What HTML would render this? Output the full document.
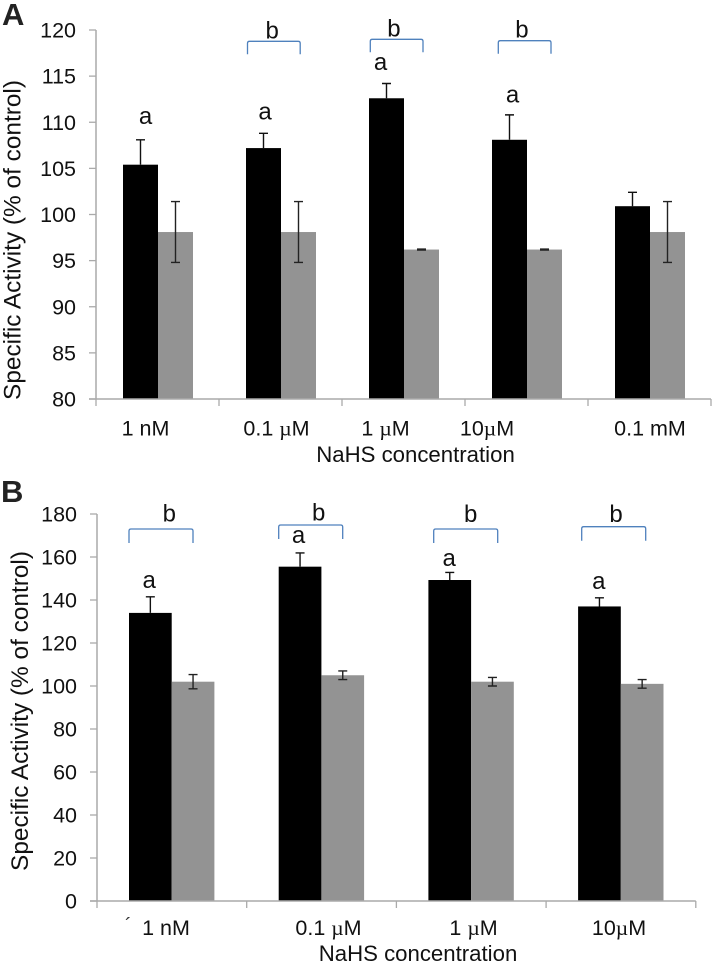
<!DOCTYPE html>
<html>
<head>
<meta charset="utf-8">
<style>
html,body{margin:0;padding:0;background:#fff;width:715px;height:964px;overflow:hidden}
svg{display:block;font-family:"Liberation Sans",sans-serif;filter:blur(0.3px)}
</style>
</head>
<body>
<svg id="fig" width="715" height="964" viewBox="0 0 715 964" xmlns="http://www.w3.org/2000/svg"></svg>
<script>
const aCategories = ['1 nM', '0.1 µM', '1 µM', '10µM', '0.1 mM'];
const aTreated = [105.4, 107.2, 112.6, 108.1, 100.9];
const aTreatedErr = [2.7, 1.6, 1.6, 2.7, 1.5];
const aControl = [98.1, 98.1, 96.2, 96.2, 98.1];
const aControlErr = [3.3, 3.3, 0.05, 0.05, 3.3];
const aTicks = [80, 85, 90, 95, 100, 105, 110, 115, 120];
const aLetters = [true, true, true, true, false];
const aBrackets = [false, true, true, true, false];

const bCategories = ['1 nM', '0.1 µM', '1 µM', '10µM'];
const bTreated = [134, 155.5, 149.3, 137];
const bTreatedErr = [7.5, 6.4, 3.5, 4];
const bControl = [102, 105, 102, 101];
const bControlErr = [3.3, 2, 2, 2];
const bTicks = [0, 20, 40, 60, 80, 100, 120, 140, 160, 180];
const bLetters = [true, true, true, true];
const bBrackets = [true, true, true, true];

const NS = 'http://www.w3.org/2000/svg';
const svg = document.getElementById('fig');

function mk(tag, attrs, text) {
  const el = document.createElementNS(NS, tag);
  for (const k in attrs) el.setAttribute(k, attrs[k]);
  if (text !== undefined) el.textContent = text;
  svg.appendChild(el);
  return el;
}

function drawPanel(p) {
  const y = v => p.y0 + (v - p.vMin) / (p.vMax - p.vMin) * (p.y1 - p.y0);
  const x = i => p.x0 + i * p.step;
  const n = p.categories.length;
  const axisRight = x(n);

  p.ticks.forEach(t => {
    const tick = mk('line', {x1: p.x0 - 7, x2: p.x0, y1: y(t), y2: y(t), stroke: '#aaaaaa', 'stroke-width': 1.3});
    
    
    const lab = mk('text', {x: p.x0 - 20, y: y(t) + 7.5, 'text-anchor': 'end', 'font-size': 21.5, fill: '#111'}, t);
    
    
  });

  p.categories.forEach((c, i) => {
    const left = x(i) + p.barOffset;
    const mid = left + p.barW;

    const black = mk('rect', {x: left, y: y(p.treated[i]), width: p.barW, height: p.y0 - y(p.treated[i]), fill: '#000'});
    
    
    const gray = mk('rect', {x: mid, y: y(p.control[i]), width: p.barW, height: p.y0 - y(p.control[i]), fill: '#939393'});
    
    

    const bx = left + p.barW / 2;
    const tTop = y(p.treated[i] + p.treatedErr[i]);
    const e1 = mk('path', {d: `M${bx} ${y(p.treated[i])}V${tTop}M${bx - 4.5} ${tTop}H${bx + 4.5}`, stroke: '#111', 'stroke-width': 1.4, fill: 'none'});
    
    

    const gx = mid + p.barW / 2;
    const gTop = y(p.control[i] + p.controlErr[i]);
    const gBot = y(p.control[i] - p.controlErr[i]);
    const e2 = mk('path', {d: `M${gx} ${gBot}V${gTop}M${gx - 4.5} ${gTop}H${gx + 4.5}M${gx - 4.5} ${gBot}H${gx + 4.5}`, stroke: '#222', 'stroke-width': 1.4, fill: 'none'});
    
    

    if (p.letters[i]) {
      const a = mk('text', {x: bx + p.aDx[i], y: tTop + p.aDy[i], 'text-anchor': 'middle', 'font-size': 24, fill: '#111'}, 'a');
      
      
    }
    if (p.brackets[i]) {
      const bY = p.bracketY[i];
      const bL = left + p.bracketDx[i];
      const bR = bL + p.bracketW;
      const br = mk('path', {d: `M${bL} ${bY + p.bracketH}V${bY + 2}Q${bL} ${bY} ${bL + 2} ${bY}H${bR - 2}Q${bR} ${bY} ${bR} ${bY + 2}V${bY + p.bracketH}`, stroke: '#4f81bd', 'stroke-width': 1.3, fill: 'none'});
      
      
      const b = mk('text', {x: (bL + bR) / 2 + p.bLetterDx[i], y: bY - p.bLetterGap[i], 'text-anchor': 'middle', 'font-size': 24, fill: '#111'}, 'b');
      
      
    }

    const cat = mk('text', {x: p.catX[i], y: p.catY, 'text-anchor': 'middle', 'font-size': 21.5, fill: '#111'});
    
    
    c.split(/(µ)/).forEach(part => {
      if (!part) return;
      const ts = document.createElementNS(NS, 'tspan');
      if (part === 'µ') ts.setAttribute('font-family', '"Liberation Serif", serif');
      ts.textContent = part;
      cat.appendChild(ts);
    });
  });

  for (let i = 0; i <= n; i++) {
    const t = mk('line', {x1: x(i), x2: x(i), y1: p.y0, y2: p.y0 + 7, stroke: '#aaaaaa', 'stroke-width': 1.3});
    
    
  }

  const yAxis = mk('line', {x1: p.x0, x2: p.x0, y1: p.y1, y2: p.y0, stroke: '#aaaaaa', 'stroke-width': 1.5});
  
  
  const xAxis = mk('line', {x1: p.x0 - 7, x2: axisRight, y1: p.y0, y2: p.y0, stroke: '#aaaaaa', 'stroke-width': 1.5});
  
  

  const yt = mk('text', {transform: `translate(${p.yTitleX} ${p.yTitleY}) rotate(-90)`, 'text-anchor': 'middle', 'font-size': 24.4, fill: '#111'}, 'Specific Activity (% of control)');
  
  
  const xt = mk('text', {x: p.xTitleX, y: p.xTitleY, 'text-anchor': 'middle', 'font-size': 22.2, fill: '#111'}, 'NaHS concentration');
  
  
  const pl = mk('text', {x: p.letterX, y: p.letterY, 'font-size': 31, 'font-weight': 'bold', fill: '#222'}, p.label);
  
  
}

drawPanel({
  label: 'A', letterX: 2, letterY: 25,
  categories: aCategories, treated: aTreated, treatedErr: aTreatedErr, control: aControl, controlErr: aControlErr,
  ticks: aTicks, letters: aLetters, brackets: aBrackets,
  vMin: 80, vMax: 120, y0: 399, y1: 30, x0: 96, step: 123, barOffset: 27, barW: 35,
  aDx: [5, 1.5, -6, 3, 0], aDy: [-16, -14, -13.5, -12.3, 0],
  bracketY: [0, 41.3, 39.3, 40.7, 0], bracketDx: [0, 1.5, 1.3, 6.3, 0], bracketW: 52.7, bracketH: 13,
  bLetterDx: [0, -1.7, -2.7, -2.7, 0], bLetterGap: [3, 3, 3, 3, 3],
  catX: [145.5, 276.5, 385.5, 487, 650], catY: 435.5,
  yTitleX: 20.5, yTitleY: 240, xTitleX: 415.5, xTitleY: 462
});

drawPanel({
  label: 'B', letterX: 1, letterY: 502,
  categories: bCategories, treated: bTreated, treatedErr: bTreatedErr, control: bControl, controlErr: bControlErr,
  ticks: bTicks, letters: bLetters, brackets: bBrackets,
  vMin: 0, vMax: 180, y0: 901, y1: 514, x0: 97, step: 149.7, barOffset: 32, barW: 42.7,
  aDx: [-1.2, -1.5, -0.6, -0.6], aDy: [-9, -10, -6.5, -8.7],
  bracketY: [529, 525, 529, 526.7], bracketDx: [0, 0, 5.3, 3.6], bracketW: 64, bracketH: 14,
  bLetterDx: [8.3, 8, 5, 2.3], bLetterGap: [7.3, 4.3, 7, 4.7],
  catX: [166, 328.5, 473.5, 619], catY: 935,
  yTitleX: 28, yTitleY: 711, xTitleX: 418, xTitleY: 961
});

const stray = mk('text', {x: 125, y: 932, 'font-size': 20, fill: '#333'}, '´');


</script>
</body>
</html>
